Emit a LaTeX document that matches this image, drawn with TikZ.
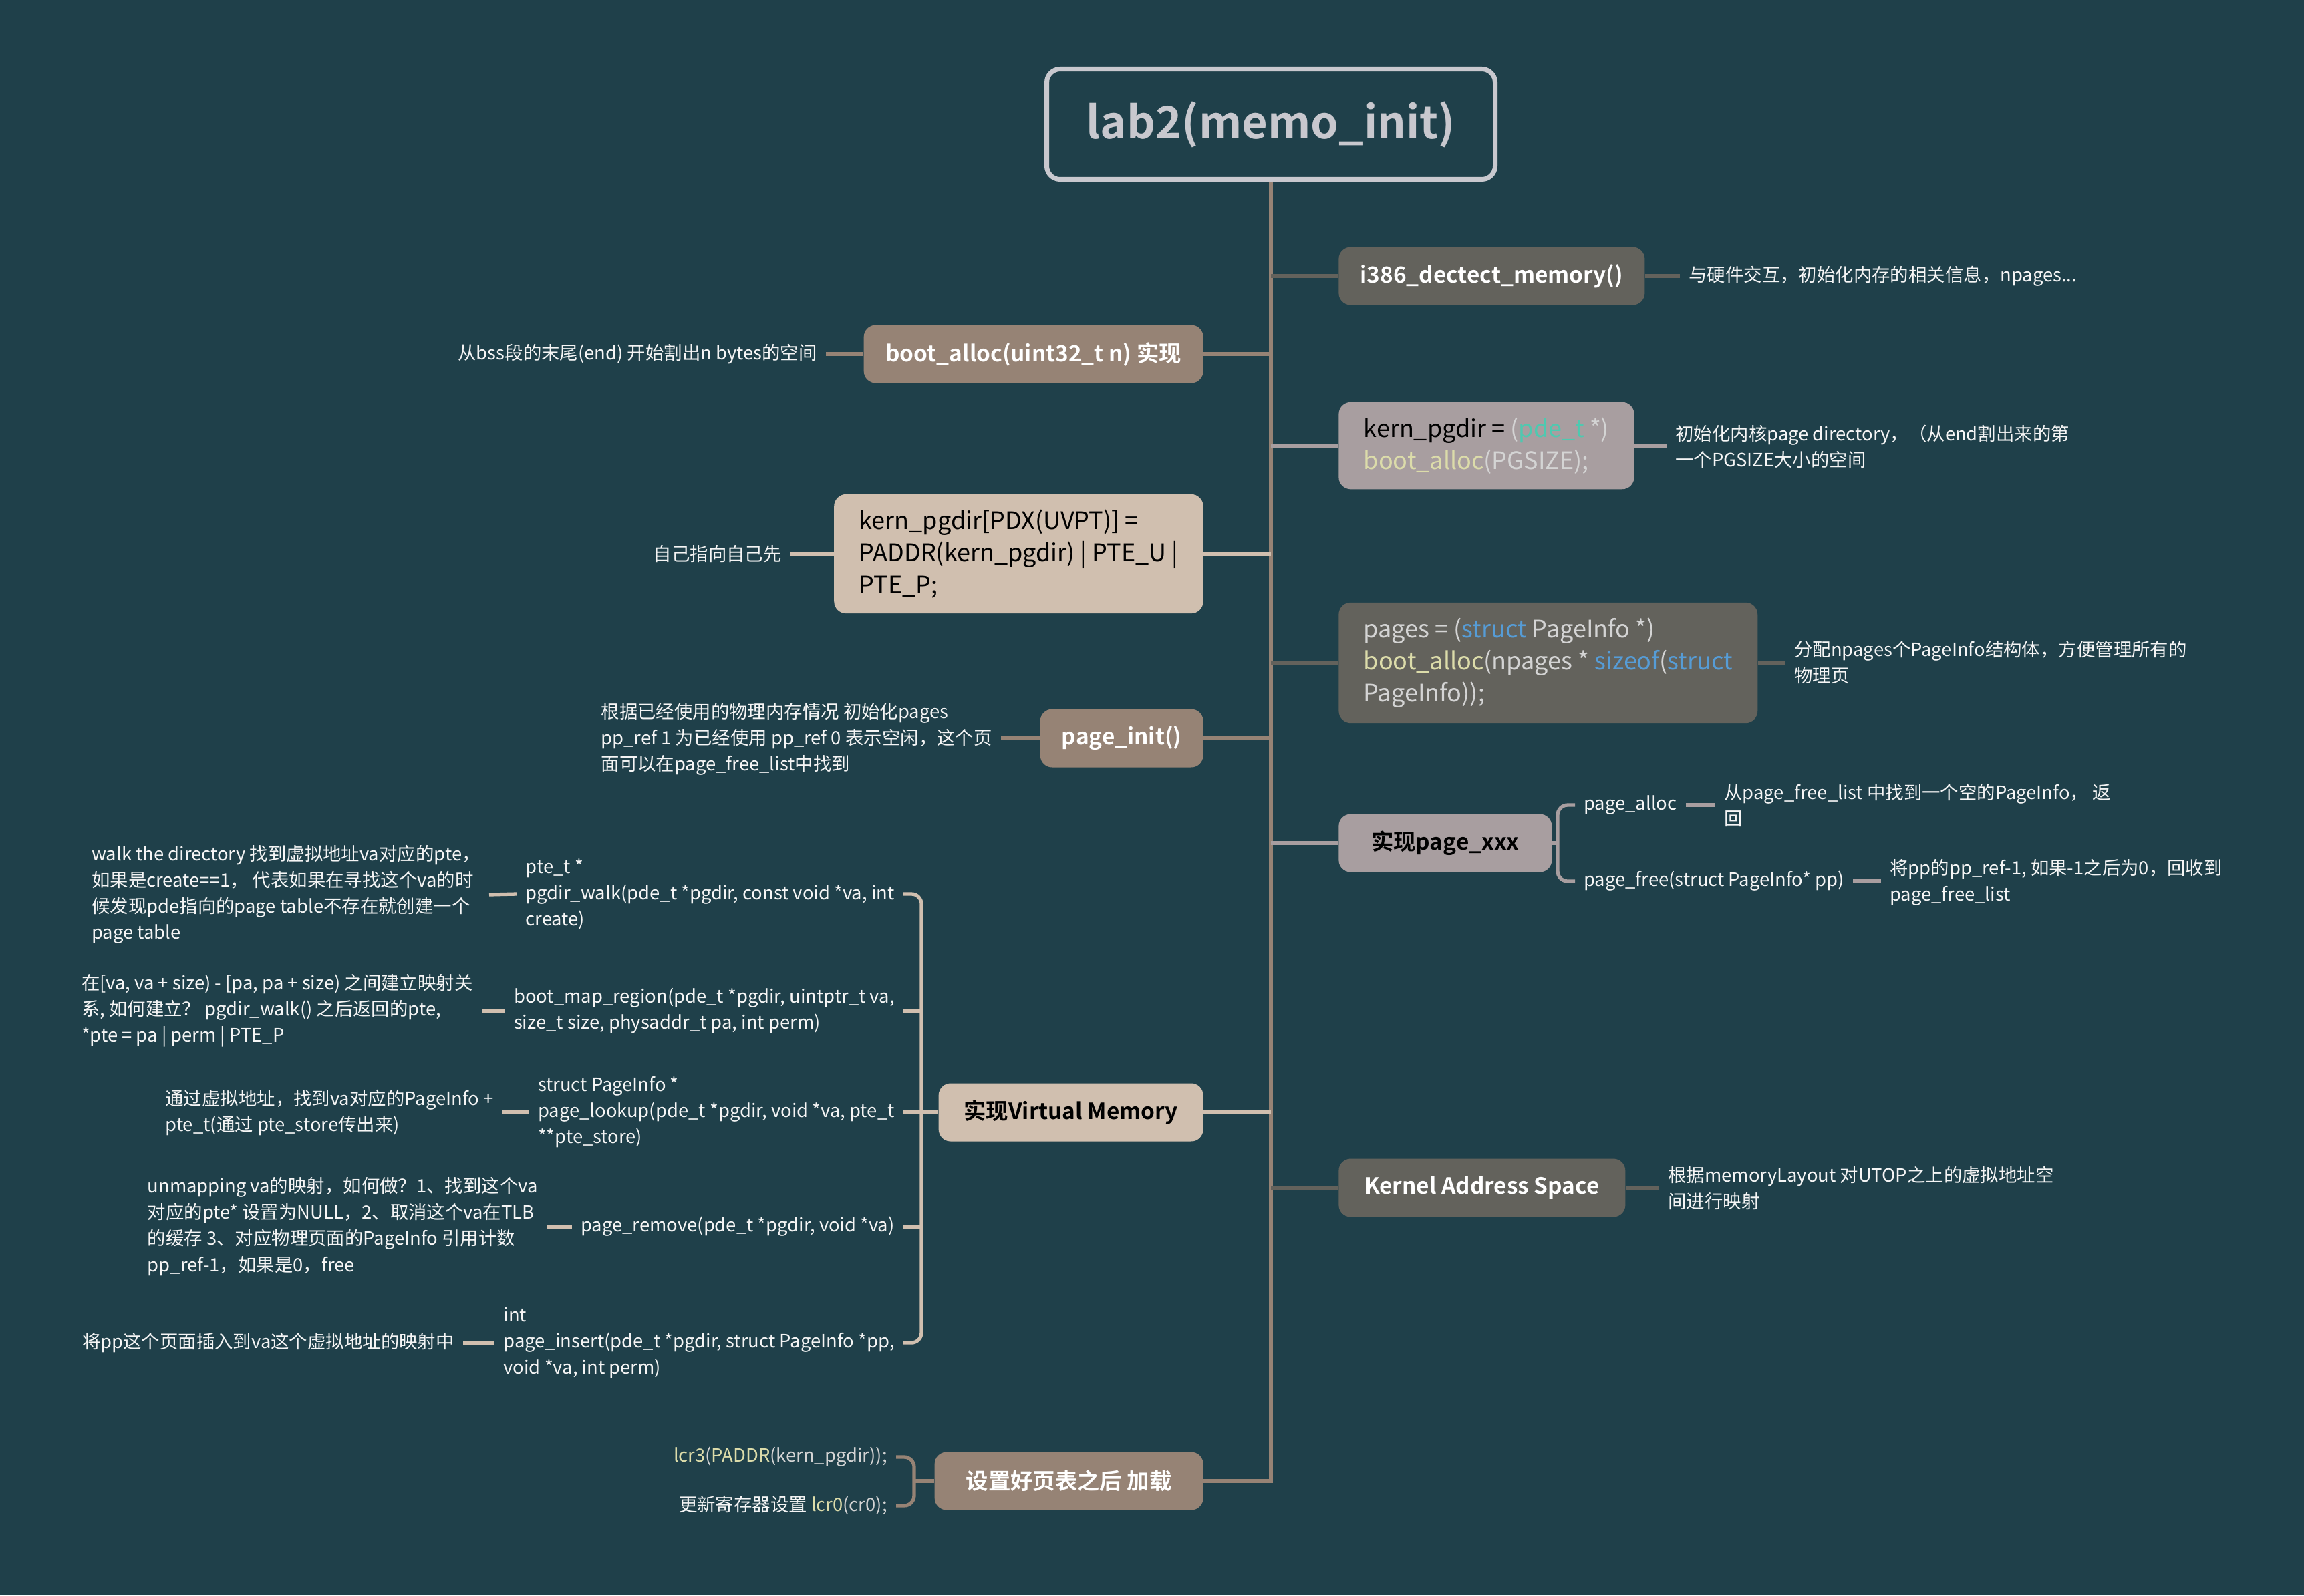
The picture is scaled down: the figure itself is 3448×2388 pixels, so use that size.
\documentclass[tikz,border=0pt]{standalone}
\usepackage{fontspec}
\setmainfont{Noto Sans CJK SC}[BoldFont = {Noto Sans CJK SC Bold}]

\definecolor{bgteal}{RGB}{31,64,74}
\definecolor{titlegray}{RGB}{200,200,206}
\definecolor{boxdark}{RGB}{99,98,92}
\definecolor{boxmauve}{RGB}{168,158,160}
\definecolor{boxtaupe}{RGB}{150,131,117}
\definecolor{boxbeige}{RGB}{208,191,175}
\definecolor{notewhite}{RGB}{245,245,245}
\definecolor{codegray}{RGB}{212,212,212}
\definecolor{codeyellow}{RGB}{220,220,170}
\definecolor{codeblue}{RGB}{86,156,214}
\definecolor{codeteal}{RGB}{78,201,176}

\tikzset{
  titlebox/.style = {draw = titlegray, text = titlegray, line width = 4pt, rounded corners = 4mm, minimum width = 134.2mm, minimum height = 33mm, font = \fontsize{38}{44}\selectfont\bfseries},
  box/.style = {rounded corners = 3.6mm, minimum height = 17.4mm, inner xsep = 3mm, font = \fontsize{19}{25}\selectfont\bfseries},
  codebox/.style = {rounded corners = 3.6mm, inner xsep = 7.5mm, inner ysep = 4.6mm, align = left, font = \fontsize{20.5}{27.3}\selectfont},
  darkbox/.style = {fill = boxdark, text = white},
  mauvebox/.style = {fill = boxmauve, text = black},
  taupebox/.style = {fill = boxtaupe, text = white},
  beigebox/.style = {fill = boxbeige, text = black},
  note/.style = {text = notewhite, align = left, inner xsep = 2.6mm, inner ysep = 1mm, font = \fontsize{15.6}{22.2}\selectfont},
  link/.style = {line width = 3pt},
}

\begin{document}
\begin{tikzpicture}[x = 0.2mm, y = -0.2mm]
\fill[bgteal] (0, 0) rectangle (3448, 2388);
\useasboundingbox (0, 0) rectangle (3448, 2388);

\node[titlebox] (lab) at (1902, 186) {lab2(memo\_init)};

\node[box, darkbox, anchor = west, minimum width = 91.6mm] (detect) at (2003, 413) {i386\_dectect\_memory()};
\node[codebox, mauvebox, anchor = west] (pgdir) at (2003, 667) {kern\_pgdir = {\color{codegray}(}{\color{codeteal}pde\_t} {\color{codegray}*)}\\{\color{codeyellow}boot\_alloc}{\color{codegray}(PGSIZE);}};
\node[codebox, darkbox, anchor = west] (pages) at (2003, 992) {{\color{codegray}pages = (}{\color{codeblue}struct} {\color{codegray}PageInfo *)}\\{\color{codeyellow}boot\_alloc}{\color{codegray}(npages *} {\color{codeblue}sizeof}{\color{codegray}(}{\color{codeblue}struct}\\{\color{codegray}PageInfo));}};
\node[box, mauvebox, anchor = west, minimum width = 63.8mm] (pagexxx) at (2003, 1262) {实现page\_xxx};
\node[box, darkbox, anchor = west, minimum width = 85.8mm] (kas) at (2003, 1778) {Kernel Address Space};

\node[box, taupebox, anchor = east, minimum width = 101.6mm] (bootalloc) at (1801, 530) {boot\_alloc(uint32\_t n) 实现};
\node[codebox, beigebox, anchor = east] (selfmap) at (1801, 829) {kern\_pgdir[PDX(UVPT)] =\\PADDR(kern\_pgdir) | PTE\_U |\\PTE\_P;};
\node[box, taupebox, anchor = east, minimum width = 48.8mm] (pageinit) at (1801, 1105) {page\_init()};
\node[box, beigebox, anchor = east, minimum width = 79.2mm] (vm) at (1801, 1665) {实现Virtual Memory};
\node[box, taupebox, anchor = east, minimum width = 80.4mm] (load) at (1801, 2217) {设置好页表之后 加载};

\node[note, anchor = west] (detectnote) at (2514, 413) {与硬件交互，初始化内存的相关信息，npages...};
\node[note, anchor = west] (pgdirnote) at (2494, 668) {初始化内核page directory，（从end割出来的第\\一个PGSIZE大小的空间};
\node[note, anchor = west] (pagesnote) at (2672, 992) {分配npages个PageInfo结构体，方便管理所有的\\物理页};
\node[note, anchor = west] (palloc) at (2357, 1205) {page\_alloc};
\node[note, anchor = west] (pfree) at (2357, 1319) {page\_free(struct PageInfo* pp)};
\node[note, anchor = west] (pallocnote) at (2567, 1205) {从page\_free\_list 中找到一个空的PageInfo，  返\\回};
\node[note, anchor = west] (pfreenote) at (2815, 1321) {将pp的pp\_ref-1, 如果-1之后为0，回收到\\page\_free\_list};
\node[note, anchor = west] (kasnote) at (2483, 1779) {根据memoryLayout 对UTOP之上的虚拟地址空\\间进行映射};

\node[note, anchor = east] (bootallocnote) at (1236, 530) {从bss段的末尾(end) 开始割出n bytes的空间};
\node[note, anchor = east] (selfmapnote) at (1183, 829) {自己指向自己先};
\node[note, anchor = east] (pageinitnote) at (1498, 1106) {根据已经使用的物理内存情况 初始化pages\\pp\_ref 1 为已经使用 pp\_ref 0 表示空闲，这个页\\面可以在page\_free\_list中找到};

\node[note, anchor = east] (walk) at (1352, 1338) {pte\_t *\\pgdir\_walk(pde\_t *pgdir, const void *va, int\\create)};
\node[note, anchor = east] (region) at (1352, 1513) {boot\_map\_region(pde\_t *pgdir, uintptr\_t va,\\size\_t size, physaddr\_t pa, int perm)};
\node[note, anchor = east] (lookup) at (1352, 1665) {struct PageInfo *\\page\_lookup(pde\_t *pgdir, void *va, pte\_t\\{}**pte\_store)};
\node[note, anchor = east] (remove) at (1352, 1836) {page\_remove(pde\_t *pgdir, void *va)};
\node[note, anchor = east] (insert) at (1352, 2010) {int\\page\_insert(pde\_t *pgdir, struct PageInfo *pp,\\void *va, int perm)};

\node[note, anchor = east] (walknote) at (732, 1339) {walk the directory 找到虚拟地址va对应的pte，\\如果是create==1， 代表如果在寻找这个va的时\\候发现pde指向的page table不存在就创建一个\\page table};
\node[note, anchor = east] (regionnote) at (721, 1513) {在[va, va + size) - [pa, pa + size) 之间建立映射关\\系, 如何建立？ pgdir\_walk() 之后返回的pte,\\{}*pte = pa | perm |  PTE\_P};
\node[note, anchor = east] (lookupnote) at (752, 1665) {通过虚拟地址，找到va对应的PageInfo +\\pte\_t(通过 pte\_store传出来)};
\node[note, anchor = east] (removenote) at (818, 1836) {unmapping va的映射，如何做？1、找到这个va\\对应的pte* 设置为NULL，2、取消这个va在TLB\\的缓存 3、对应物理页面的PageInfo 引用计数\\pp\_ref-1，如果是0，free};
\node[note, anchor = east] (insertnote) at (693, 2010) {将pp这个页面插入到va这个虚拟地址的映射中};

\node[note, anchor = east] (lcrthree) at (1341, 2181) {{\color{codeyellow}lcr3}{\color{codegray}(}{\color{codeyellow}PADDR}{\color{codegray}(kern\_pgdir));}};
\node[note, anchor = east] (lcrzero) at (1341, 2254) {更新寄存器设置 {\color{codeyellow}lcr0}{\color{codegray}(cr0);}};

\coordinate (xxxfork) at (2331, 1262);
\coordinate (vmfork) at (1379, 1665);
\coordinate (loadfork) at (1368, 2217);

\draw[link, boxtaupe] (lab.south) |- (load.east);

\draw[link, boxdark] (lab.south |- detect.west) -- (detect.west);
\draw[link, boxmauve] (lab.south |- pgdir.west) -- (pgdir.west);
\draw[link, boxdark] (lab.south |- pages.west) -- (pages.west);
\draw[link, boxmauve] (lab.south |- pagexxx.west) -- (pagexxx.west);
\draw[link, boxdark] (lab.south |- kas.west) -- (kas.west);
\draw[link, boxtaupe] (lab.south |- bootalloc.east) -- (bootalloc.east);
\draw[link, boxbeige] (lab.south |- selfmap.east) -- (selfmap.east);
\draw[link, boxtaupe] (lab.south |- pageinit.east) -- (pageinit.east);
\draw[link, boxbeige] (lab.south |- vm.east) -- (vm.east);

\draw[link, boxdark] (detect.east) -- (detectnote.west);
\draw[link, boxmauve] (pgdir.east) -- (pgdir.east -| pgdirnote.west);
\draw[link, boxdark] (pages.east) -- (pages.east -| pagesnote.west);
\draw[link, boxdark] (kas.east) -- (kas.east -| kasnote.west);
\draw[link, boxmauve] (pagexxx.east) -- (xxxfork);
\draw[link, boxmauve, rounded corners = 3mm] (palloc.west) -| (xxxfork) |- (pfree.west);
\draw[link, boxmauve] (palloc.east) -- (pallocnote.west);
\draw[link, boxmauve] (pfree.east) -- (pfree.east -| pfreenote.west);

\draw[link, boxtaupe] (bootalloc.west) -- (bootallocnote.east);
\draw[link, boxbeige] (selfmap.west) -- (selfmapnote.east);
\draw[link, boxtaupe] (pageinit.west) -- (pageinit.west -| pageinitnote.east);

\draw[link, boxbeige] (vm.west) -- (lookup.east);
\draw[link, boxbeige, rounded corners = 3mm] (walk.east) -| (vmfork) |- (insert.east);
\draw[link, boxbeige] (region.east) -- (region.east -| vmfork);
\draw[link, boxbeige] (remove.east) -- (remove.east -| vmfork);
\draw[link, boxbeige] (walknote.east) -- (walk.west);
\draw[link, boxbeige] (regionnote.east) -- (region.west);
\draw[link, boxbeige] (lookupnote.east) -- (lookup.west);
\draw[link, boxbeige] (removenote.east) -- (remove.west);
\draw[link, boxbeige] (insertnote.east) -- (insert.west);

\draw[link, boxtaupe] (load.west) -- (loadfork);
\draw[link, boxtaupe, rounded corners = 3mm] (lcrthree.east) -| (loadfork) |- (lcrzero.east);
\end{tikzpicture}
\end{document}
